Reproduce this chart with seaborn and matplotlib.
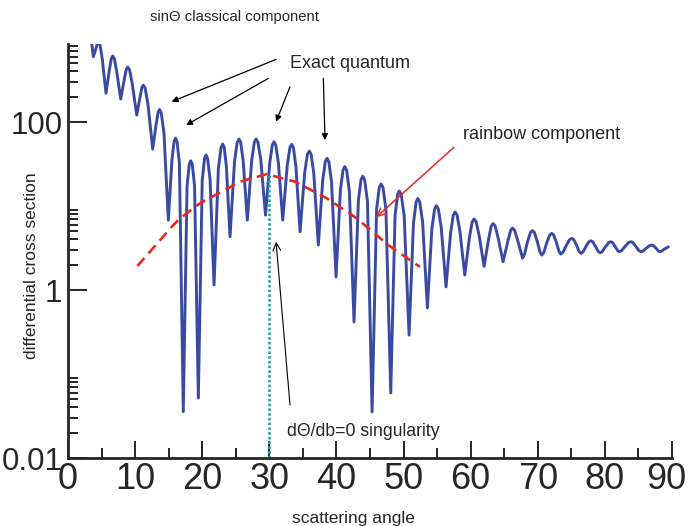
# Differential cross section: exact quantum vs rainbow component
import numpy as np
import pandas as pd
import seaborn as sns
import matplotlib
matplotlib.use("Agg")
import matplotlib.pyplot as plt
import matplotlib.transforms as mtransforms
from matplotlib.ticker import FixedLocator, NullFormatter

# exact quantum curve: peaks and troughs (angle in degrees)
peak_angle = [3.43, 3.77, 4.55, 5.66, 6.66, 7.85, 8.90, 10.24, 11.22, 12.62, 13.64,
              14.95, 16.02, 17.18, 18.29, 19.42, 20.57, 21.76, 23.06, 24.14, 25.48,
              26.72, 28.02, 29.43, 30.70, 32.00, 33.34, 34.58, 35.96, 37.30, 38.60,
              39.94, 41.24, 42.62, 43.92, 45.31, 46.65, 48.09, 49.36, 50.82, 52.13,
              53.55, 54.89, 56.33, 57.68, 59.12, 60.51, 62.00, 63.34, 64.83, 66.24,
              67.73, 69.20, 70.60, 72.09, 73.43, 75.07, 76.45, 77.90, 79.28, 80.88,
              82.16, 83.86, 85.35, 86.99, 88.23, 89.46]
peak_sigma = [950, 599, 900, 221, 611, 188, 452, 121, 275, 47.7, 141,
              6.8, 64.5, 0.0356, 34.6, 0.0518, 40.5, 1.15, 54.7, 4.31, 62.8,
              6.8, 62.8, 7.8, 58.3, 6.8, 54.3, 4.94, 45.2, 3.43, 37.0,
              1.43, 29.5, 0.416, 22.7, 0.0353, 18.3, 0.0594, 15.1, 0.291, 12.3,
              0.611, 10.1, 1.09, 8.49, 1.51, 7.0, 1.91, 6.19, 2.17, 5.47,
              2.40, 5.11, 2.61, 4.73, 2.68, 4.12, 2.73, 3.86, 2.78, 3.76,
              2.86, 3.76, 2.86, 3.43, 2.86, 3.27]

# extra readings on the flanks of each oscillation
flank_angle = [3.50, 3.60, 4.16, 4.39, 4.77, 5.11, 6.16, 6.46, 6.90, 7.26, 8.38, 8.69,
               9.17, 9.57, 10.73, 11.02, 11.50, 11.92, 13.13, 13.44, 13.90, 14.30,
               15.49, 15.81, 16.25, 16.60, 17.74, 18.07, 18.52, 18.86, 20.00, 20.34,
               20.81, 21.17, 22.41, 22.80, 23.28, 23.60, 24.81, 25.21, 25.73, 26.10,
               27.37, 27.76, 28.30, 28.73, 30.07, 30.45, 30.96, 31.35, 32.67, 33.07,
               33.59, 33.96, 35.27, 35.68, 36.23, 36.63, 37.95, 38.34, 38.87, 39.27,
               40.59, 40.98, 41.52, 41.93, 43.27, 43.66, 44.20, 44.62, 45.98, 46.38,
               46.94, 47.37, 48.73, 49.11, 49.65, 50.09, 51.48, 51.87, 52.41, 52.84,
               54.22, 54.62, 55.18, 55.61, 57.01, 57.41, 57.97, 58.40, 59.82, 60.23,
               60.81, 61.26, 62.67, 63.07, 63.64, 64.09, 65.54, 65.96, 66.54, 66.99,
               68.02, 68.47, 68.91, 69.48, 69.90, 70.32, 70.90, 71.35, 71.79, 72.36,
               72.76, 73.16, 73.76, 74.25, 74.74, 75.35, 75.76, 76.17, 76.74, 77.18,
               77.61, 78.18, 78.59, 79.00, 79.60, 80.08, 80.56, 81.14, 81.52, 81.90,
               82.50, 83.01, 83.52, 84.16, 84.61, 85.05, 85.68, 86.17, 86.66, 87.24,
               87.61, 87.98, 88.48, 88.85]
flank_sigma = [916, 775, 750, 871, 835, 561, 416, 574, 571, 400, 320, 427,
               420, 287, 198, 260, 253, 161, 94.4, 132, 128, 73.9,
               35.7, 59.0, 58.3, 32.3, 17.3, 31.3, 31.3, 17.3, 20.3, 36.6,
               36.7, 20.8, 27.9, 49.6, 49.9, 29.5, 33.6, 57.2, 57.5, 34.8,
               34.8, 57.5, 57.5, 35.3, 33.1, 53.5, 53.4, 32.6, 30.6, 49.8,
               49.6, 29.6, 25.1, 41.4, 41.2, 24.3, 20.2, 33.8, 33.6, 19.2,
               15.5, 26.8, 26.7, 15.0, 11.6, 20.6, 20.5, 11.4, 9.17, 16.6,
               16.6, 9.18, 7.58, 13.7, 13.7, 7.70, 6.30, 11.15, 11.18, 6.46,
               5.36, 9.19, 9.24, 5.60, 4.79, 7.78, 7.82, 5.00, 4.26, 6.48,
               6.51, 4.46, 4.05, 5.78, 5.81, 4.18, 3.82, 5.15, 5.18, 3.94,
               2.66, 3.76, 4.85, 4.87, 3.86, 2.85, 2.81, 3.67, 4.53, 4.53,
               3.71, 2.88, 2.82, 3.40, 3.98, 3.99, 3.43, 2.86, 2.84, 3.30,
               3.75, 3.76, 3.32, 2.88, 2.87, 3.27, 3.67, 3.67, 3.31, 2.95,
               2.95, 3.31, 3.67, 3.67, 3.31, 2.95, 2.91, 3.15, 3.38, 3.38,
               3.15, 2.91, 2.91, 3.07]

# rainbow component (red dashed)
rb_angle = [10.33, 15.69, 16.69, 19.67, 25.63, 29.61, 33.83, 38.55, 43.02, 47.73, 52.46]
rb_sigma = [1.93, 5.94, 7.14, 10.8, 19.5, 24.0, 19.5, 12.4, 7.14, 3.43, 1.88]

# rainbow angle (dTheta/db = 0)
rainbow_angle = 30
rainbow_top = 24.0

y_major = [0.01, 1, 100]
y_major_labels = ["0.01", "1", "100"]
x_ticks = [0, 10, 20, 30, 40, 50, 60, 70, 80, 90]

quantum = pd.concat([pd.DataFrame({"angle": peak_angle, "sigma": peak_sigma}),
                     pd.DataFrame({"angle": flank_angle, "sigma": flank_sigma})])
quantum = quantum.sort_values("angle").reset_index(drop=True)
rainbow = pd.DataFrame({"angle": rb_angle, "sigma": rb_sigma})

sns.set_style("ticks")
plt.rcParams["font.family"] = ["Liberation Sans", "DejaVu Sans"]

fig = plt.figure(figsize=(6.9, 5.26), dpi=100)
ax = fig.add_axes([68 / 690, 1 - 458 / 526, (672 - 68) / 690, (458 - 44) / 526])

sns.lineplot(data=quantum, x="angle", y="sigma", ax=ax, color="#3a4aa2",
             linewidth=2.1, estimator=None, sort=False)
sns.lineplot(data=rainbow, x="angle", y="sigma", ax=ax, color="#e8291c",
             linewidth=1.9, estimator=None, linestyle=(0, (4, 2.4)))
ax.vlines(rainbow_angle, 0.01, rainbow_top, colors="#2aa5a5", linewidth=1.9,
          linestyles=[(0, (1, 0.8))])

ax.set_yscale("log")
ax.set_ylim(0.01, 850)
ax.set_xlim(0, 90)
ax.yaxis.set_major_locator(FixedLocator(y_major))
ax.set_yticklabels(y_major_labels)
minor = [m * b for b in [0.01, 1, 100] for m in range(2, 10)]
ax.yaxis.set_minor_locator(FixedLocator(minor))
ax.yaxis.set_minor_formatter(NullFormatter())
ax.set_xticks(x_ticks)
ax.set_xticks(range(5, 90, 10), minor=True)

ax.tick_params(axis="both", which="both", direction="in", color="black")
ax.tick_params(axis="y", which="major", length=14, width=1.2, labelsize=22.5, pad=4)
ax.tick_params(axis="y", which="minor", length=7, width=1.2)
ax.tick_params(axis="x", which="major", length=12, width=1.2, labelsize=26, pad=3)
ax.tick_params(axis="x", which="minor", length=7, width=1.2)
last = ax.get_xticklabels()[-1]
last.set_transform(last.get_transform() +
                   mtransforms.ScaledTranslation(-6 / 100, 0, fig.dpi_scale_trans))

sns.despine(ax=ax)
for s in ["left", "bottom"]:
    ax.spines[s].set_linewidth(2)
ax.set_xlabel("")
ax.set_ylabel("")

fig.text(32 / 690, 1 - 266 / 526, "differential cross section", rotation=90,
         ha="center", va="center", fontsize=12.5)
fig.text(353 / 690, 1 - 518 / 526, "scattering angle", ha="center", va="center",
         fontsize=12.5)
fig.text(150 / 690, 1 - 17 / 526, "sin\u0398 classical component", ha="left",
         va="center", fontsize=10.7)
fig.text(290 / 690, 1 - 63 / 526, "Exact quantum", ha="left", va="center", fontsize=13)
fig.text(463 / 690, 1 - 134 / 526, "rainbow component", ha="left", va="center",
         fontsize=13)
fig.text(287 / 690, 1 - 431 / 526, "d\u0398/db=0 singularity", ha="left",
         va="center", fontsize=12.7)

# arrows pointing to the exact quantum curve
black_head = dict(arrowstyle="-|>", color="black", lw=0.9, mutation_scale=9,
                  shrinkA=0, shrinkB=0)
for tail, head in [((31.0, 557), (15.45, 175)), ((29.85, 331), (17.59, 92)),
                   ((33.08, 263), (31.0, 101)), ((38.05, 331), (38.3, 61))]:
    ax.annotate("", xy=head, xytext=tail, arrowprops=black_head, annotation_clip=False)

ax.annotate("", xy=(45.9, 7.33), xytext=(57.5, 50),
            arrowprops=dict(arrowstyle="->", color="#e8291c", lw=1.1,
                            mutation_scale=14, shrinkA=0, shrinkB=0))
ax.annotate("", xy=(31.0, 3.76), xytext=(33.08, 0.0427),
            arrowprops=dict(arrowstyle="->", color="black", lw=0.8,
                            mutation_scale=14, shrinkA=0, shrinkB=0))

fig.savefig("out.png", dpi=100)
